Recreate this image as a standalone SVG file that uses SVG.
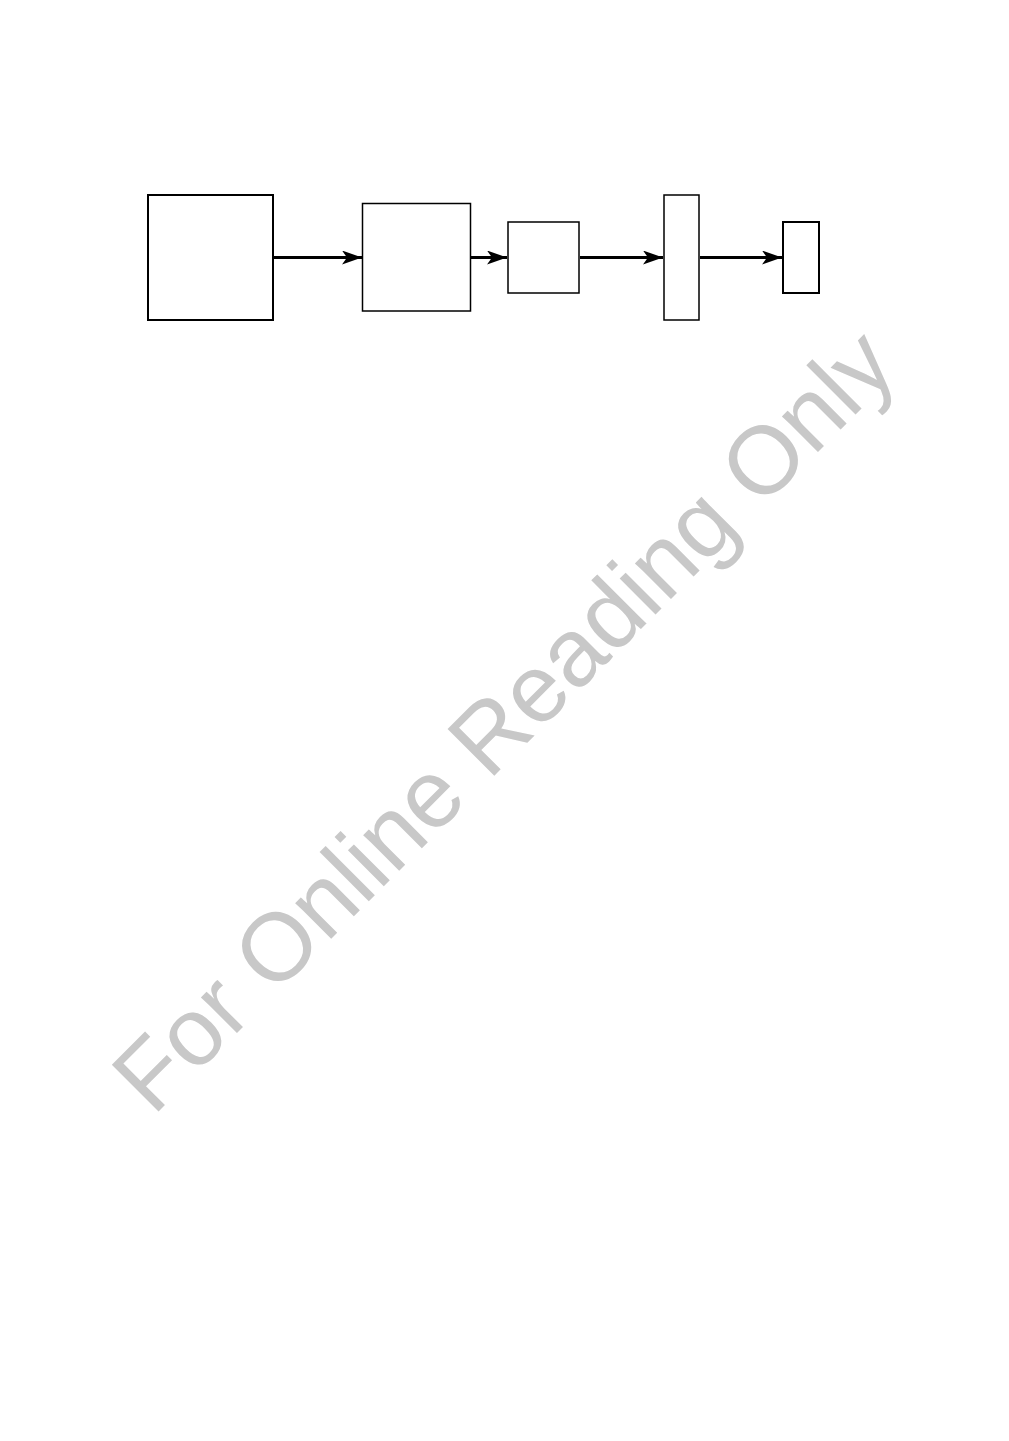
<svg xmlns="http://www.w3.org/2000/svg" width="1009" height="1441" viewBox="0 0 1009 1441">
<style>
.box{fill:#fff;stroke:#000;stroke-width:2}
.edge{fill:none;stroke:#000;stroke-width:3}
.wm{font-family:"Liberation Sans",Arial,sans-serif;font-size:96px;fill:#c8c8c8}
</style>
<defs>
<marker id="ah" markerUnits="userSpaceOnUse" markerWidth="22" markerHeight="16" refX="20" refY="7" orient="auto" viewBox="0 0 22 16">
<path d="M0,0 L20,7 L0,14 L5,7 Z" fill="#000"/>
</marker>
</defs>
<rect width="1009" height="1441" fill="#fff"/>
<text class="wm" x="153" y="1117" transform="rotate(-45 153 1117)">For Online Reading Only</text>
<g id="connectors">
<line class="edge" x1="274" y1="257.5" x2="362" y2="257.5" marker-end="url(#ah)"/>
<line class="edge" x1="471" y1="257.5" x2="507" y2="257.5" marker-end="url(#ah)"/>
<line class="edge" x1="580" y1="257.5" x2="663" y2="257.5" marker-end="url(#ah)"/>
<line class="edge" x1="700" y1="257.5" x2="782" y2="257.5" marker-end="url(#ah)"/>
</g>
<g id="n1"><rect class="box" x="148" y="195" width="125" height="125"/></g>
<g id="n2"><rect class="box" x="362.5" y="203.5" width="108" height="107.5" style="stroke-width:1.5"/></g>
<g id="n3"><rect class="box" x="508" y="222" width="71" height="71" style="stroke-width:1.5"/></g>
<g id="n4"><rect class="box" x="664" y="195" width="35" height="125" style="stroke-width:1.5"/></g>
<g id="n5"><rect class="box" x="783" y="222" width="36" height="71"/></g>
</svg>
